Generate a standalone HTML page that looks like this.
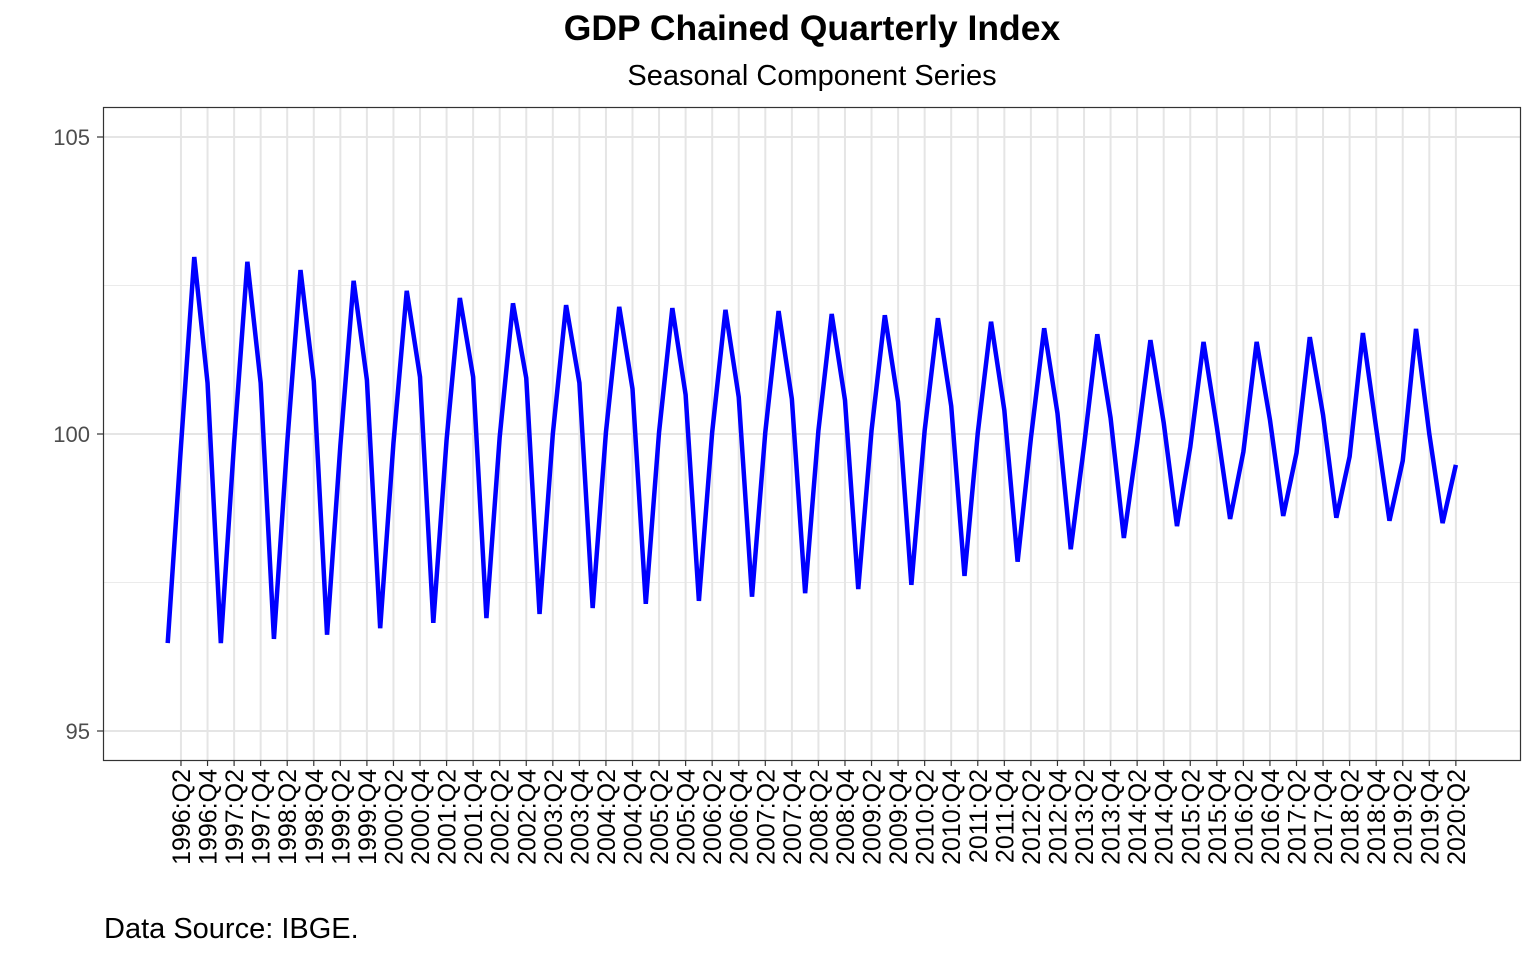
<!DOCTYPE html>
<html><head><meta charset="utf-8"><style>
body{margin:0;background:#fff;font-family:"Liberation Sans",sans-serif}
</style></head><body>
<svg id="chart" width="1536" height="960" xmlns="http://www.w3.org/2000/svg" font-family="Liberation Sans, sans-serif">
<text x="812" y="40" text-anchor="middle" font-size="35.5" font-weight="bold">GDP Chained Quarterly Index</text>
<text x="812" y="85" text-anchor="middle" font-size="29">Seasonal Component Series</text>
<text x="104" y="938" font-size="29">Data Source: IBGE.</text>
<g id="grid"></g>
<g id="marks"></g>
<rect x="103.5" y="107.5" width="1417" height="653" fill="none" stroke="#333" stroke-width="1.2"/>
<g id="axes"></g>
</svg>
<script>
const years=[];for(let y=1996;y<=2020;y++)years.push(y);
const q1=[96.48,96.48,96.55,96.62,96.73,96.82,96.9,96.97,97.07,97.14,97.19,97.26,97.32,97.39,97.46,97.61,97.85,98.06,98.25,98.45,98.57,98.62,98.59,98.54,98.5];
const q2=[99.8,99.85,99.85,99.8,99.85,99.9,99.95,100.0,100.03,100.03,100.03,100.03,100.06,100.06,100.06,100.02,99.93,99.8,99.85,99.78,99.7,99.68,99.62,99.55,99.48];
const q3=[102.98,102.9,102.76,102.58,102.41,102.29,102.2,102.17,102.14,102.12,102.09,102.07,102.02,102.0,101.95,101.89,101.78,101.68,101.58,101.55,101.55,101.63,101.7,101.77];
const q4=[100.86,100.86,100.89,100.91,100.96,100.96,100.94,100.86,100.76,100.66,100.62,100.59,100.57,100.54,100.47,100.4,100.35,100.27,100.19,100.12,100.24,100.32,100.1,100.0];
const yTicks=[95,100,105];
const NS="http://www.w3.org/2000/svg";
const X=i=>167.7+i*13.28;
const Y=v=>434-(v-100)*59.4;
const series=[];
years.forEach((yr,k)=>{
 if(q1[k]!==undefined)series.push({lab:yr+":Q1",v:q1[k]});
 if(q2[k]!==undefined)series.push({lab:yr+":Q2",v:q2[k]});
 if(q3[k]!==undefined)series.push({lab:yr+":Q3",v:q3[k]});
 if(q4[k]!==undefined)series.push({lab:yr+":Q4",v:q4[k]});
});
function mk(t,a,p){const e=document.createElementNS(NS,t);for(const k in a)e.setAttribute(k,a[k]);p.appendChild(e);return e;}
const grid=document.getElementById('grid'),axes=document.getElementById('axes'),marks=document.getElementById('marks');
[97.5,102.5].forEach(v=>{const l=mk('line',{x1:104,x2:1520,y1:Y(v),y2:Y(v),stroke:'#ebebeb','stroke-width':1},grid);

});
yTicks.forEach(v=>{const l=mk('line',{x1:104,x2:1520,y1:Y(v),y2:Y(v),stroke:'#e5e5e5','stroke-width':2},grid);


const tk=mk('line',{x1:97,x2:103,y1:Y(v),y2:Y(v),stroke:'#333','stroke-width':1.2},axes);


const t=mk('text',{x:90,y:Y(v)+8,'text-anchor':'end','font-size':22,fill:'#4d4d4d'},axes);t.textContent=v;

});
series.forEach((d,i)=>{if(d.lab.endsWith('Q2')||d.lab.endsWith('Q4')){
 const x=X(i);
 const g=mk('line',{x1:x,x2:x,y1:108,y2:760,stroke:'#e5e5e5','stroke-width':2},grid);
 
 
 const tk=mk('line',{x1:x,x2:x,y1:761,y2:766,stroke:'#333','stroke-width':1.2},axes);
 
 
 const t=mk('text',{x:0,y:0,'text-anchor':'end','font-size':25,fill:'#000',transform:`translate(${x+9},769) rotate(-90)`},axes);t.textContent=d.lab;
 
 }});
const pl=mk('polyline',{points:series.map((d,i)=>X(i)+','+Y(d.v)).join(' '),fill:'none',stroke:'#0000ff','stroke-width':4.5,'stroke-linejoin':'miter'},marks);


</script>
</body></html>
